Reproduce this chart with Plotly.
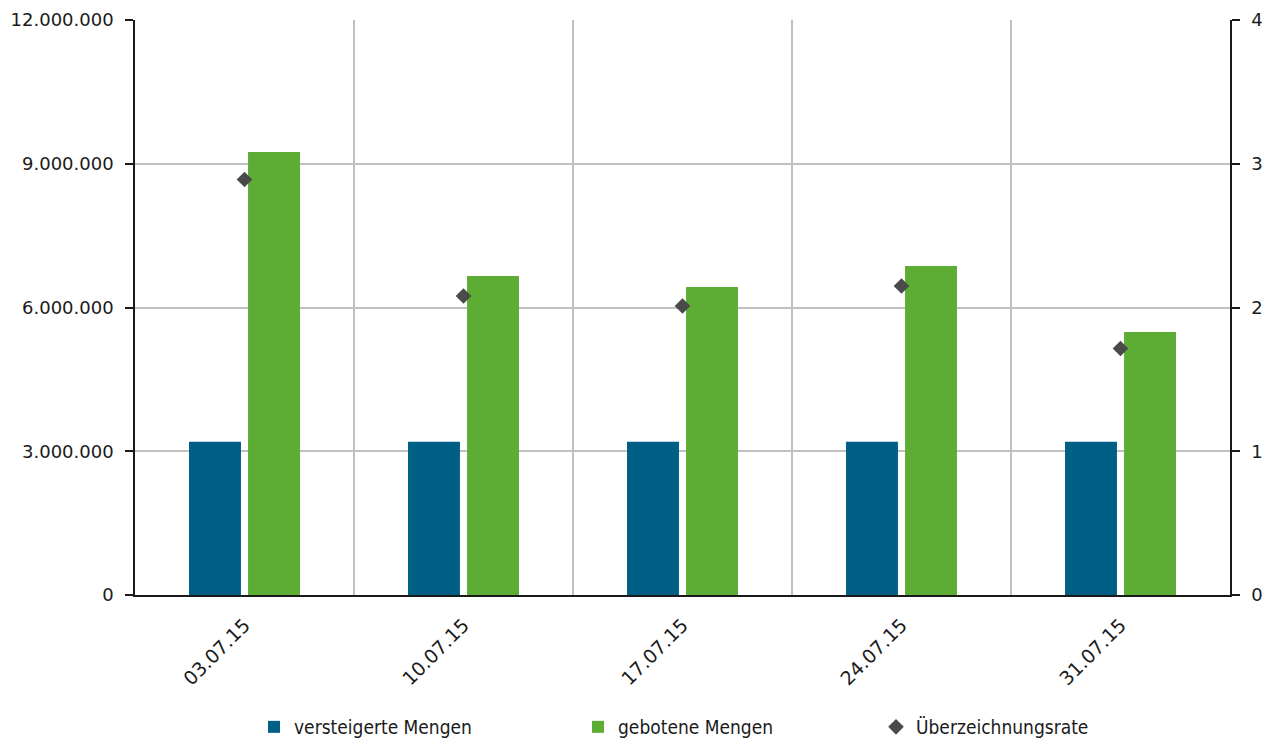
import plotly.graph_objects as go

categories = ["03.07.15", "10.07.15", "17.07.15", "24.07.15", "31.07.15"]
versteigert = [3200000, 3200000, 3200000, 3200000, 3200000]
geboten = [9245000, 6657000, 6428000, 6866000, 5489000]
rate = [2.89, 2.08, 2.01, 2.15, 1.715]

fig = go.Figure()
fig.add_trace(go.Bar(x=categories, y=versteigert, name="versteigerte Mengen",
                     marker=dict(color="#005f85", line=dict(width=0)), legend="legend"))
fig.add_trace(go.Bar(x=categories, y=geboten, name="gebotene Mengen",
                     marker=dict(color="#5dad35", line=dict(width=0)), legend="legend2"))
fig.add_trace(go.Scatter(x=categories, y=rate, name="Überzeichnungsrate", mode="markers",
                         marker=dict(symbol="diamond", size=12, color="#4a4a4a"),
                         yaxis="y2", legend="legend3"))

legend_font = dict(family="DejaVu Sans Condensed", size=19, color="#1a1a1a")
def leg(xpx):
    return dict(orientation="h", xref="container", yref="container",
                x=xpx / 1266, xanchor="left", y=(740 - 727) / 740, yanchor="middle",
                font=legend_font, itemwidth=30, bgcolor="rgba(0,0,0,0)")

fig.update_layout(
    width=1266, height=740,
    margin=dict(l=135, r=36, t=20, b=145, autoexpand=False),
    paper_bgcolor="white", plot_bgcolor="white",
    separators=",.",
    barmode="group", bargap=0.461, bargroupgap=0.12,
    font=dict(family="DejaVu Sans", size=18, color="#1a1a1a"),
    showlegend=True,
    legend=leg(254), legend2=leg(578), legend3=leg(876),
    xaxis=dict(type="category", tickangle=-45, showgrid=True, gridcolor="#c0c0c0",
               gridwidth=1.5, tickson="boundaries", ticks="", showline=True,
               linecolor="#1a1a1a", linewidth=1.5, mirror=False,
               tickfont=dict(size=19), ticklabelstandoff=10, automargin=False),
    yaxis=dict(range=[0, 12000000], dtick=3000000, tickformat=",d",
               showgrid=True, gridcolor="#c0c0c0", gridwidth=1.5,
               ticks="outside", ticklen=8, tickcolor="#1a1a1a", tickwidth=1.5,
               showline=True, linecolor="#1a1a1a", linewidth=1.5,
               zeroline=False, ticklabelstandoff=8, automargin=False),
    yaxis2=dict(range=[0, 4], dtick=1, overlaying="y", side="right",
                showgrid=False, ticks="outside", ticklen=8, tickcolor="#1a1a1a",
                tickwidth=1.5, showline=True, linecolor="#1a1a1a", linewidth=1.5,
                zeroline=False, ticklabelstandoff=8, automargin=False),
)

fig.write_html("out.html", config={"displayModeBar": False},
               post_script="document.body.style.margin='0';document.body.style.overflow='hidden';")
